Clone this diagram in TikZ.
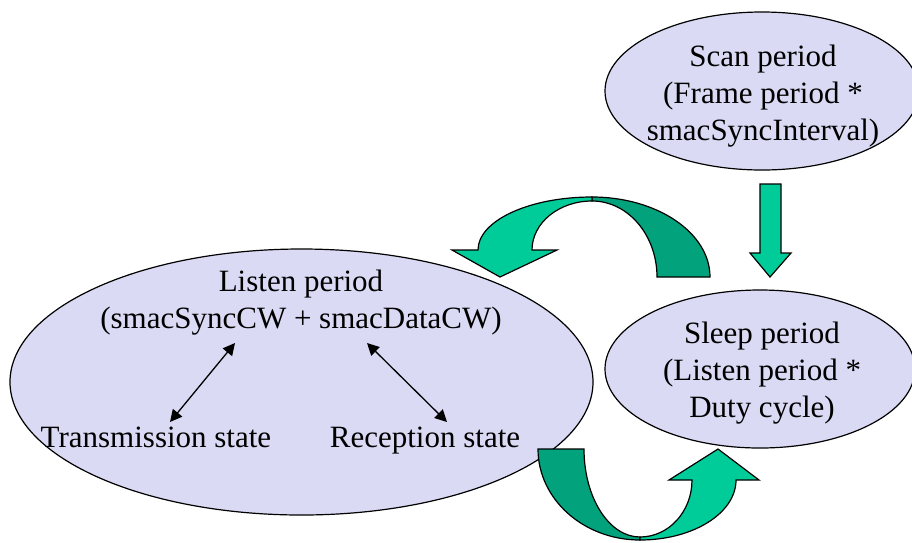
\documentclass[tikz,border=0pt]{standalone}
\usepackage{fontspec}
\setmainfont{Liberation Serif}
\usetikzlibrary{shapes.geometric,arrows.meta}
\definecolor{lav}{RGB}{218,218,244}
\definecolor{gLight}{RGB}{0,204,153}
\definecolor{gDark}{RGB}{2,163,124}
\tikzset{
  oval/.style={ellipse,draw=black,line width=1.2pt,fill=lav,inner sep=0pt},
  lbl/.style={font=\fontsize{31}{37}\selectfont,align=center,inner sep=0pt},
  blk/.style={draw=black,line width=1.2pt,line join=miter},
  dbl/.style={{Triangle[length=12pt,width=12pt]}-{Triangle[length=12pt,width=12pt]},line width=1.3pt}
}
\begin{document}
\begin{tikzpicture}[x=1pt,y=-1pt]
\useasboundingbox (0,0) rectangle (912,542);
\clip (0,0) rectangle (912,542);
% ellipses
\node[oval,minimum width=314pt,minimum height=158pt] (scan) at (762,91) {};
\node[oval,minimum width=583pt,minimum height=266pt] (listen) at (301.5,382) {};
\node[oval,minimum width=310pt,minimum height=158pt] (sleep) at (760,369) {};
% texts (anchor base = baseline of the last line)
\node[lbl,anchor=base] (scanT) at (763,140) {Scan period\\(Frame period *\\smacSyncInterval)};
\node[lbl,anchor=base] (sleepT) at (762,417) {Sleep period\\(Listen period *\\Duty cycle)};
\node[lbl,anchor=base] (listenT) at (301,328) {Listen period\\(smacSyncCW + smacDataCW)};
\node[lbl,anchor=base] (tx) at (156,447) {Transmission state};
\node[lbl,anchor=base] (rx) at (425,447) {Reception state};
% small double arrows
\coordinate (a1) at (235,343);
\coordinate (a2) at (170,422);
\coordinate (b1) at (367,343);
\coordinate (b2) at (447,422);
\draw[dbl] (a1) -- (a2);
\draw[dbl] (b1) -- (b2);
% down arrow
\draw[blk,fill=gLight] (760,184) -- (781,184) -- (781,253) -- (791,253) -- (770,277) -- (750,253) -- (760,253) -- cycle;
% top curved arrow: dark back part
\draw[blk,fill=gDark] (710,277) arc[start angle=0,end angle=-90,x radius=118,y radius=80]
  -- (592,201) arc[start angle=-90,end angle=0,x radius=65,y radius=76] -- cycle;
% top curved arrow: light front part
\draw[blk,fill=gLight] (592,197) arc[start angle=-90,end angle=-180,x radius=114,y radius=53]
  -- (452,250) -- (500,277) -- (557,250) -- (532,250)
  arc[start angle=180,end angle=270,x radius=60,y radius=49] -- cycle;
% bottom curved arrow: dark back part
\draw[blk,fill=gDark] (538,449) arc[start angle=180,end angle=90,x radius=102,y radius=91]
  -- (640,537) arc[start angle=90,end angle=180,x radius=56,y radius=88] -- cycle;
% bottom curved arrow: light front part
\draw[blk,fill=gLight] (640,540) arc[start angle=90,end angle=0,x radius=96,y radius=60]
  -- (759,480) -- (718,449) -- (669,480) -- (692,480)
  arc[start angle=0,end angle=90,x radius=52,y radius=57] -- cycle;
\end{tikzpicture}
\end{document}
